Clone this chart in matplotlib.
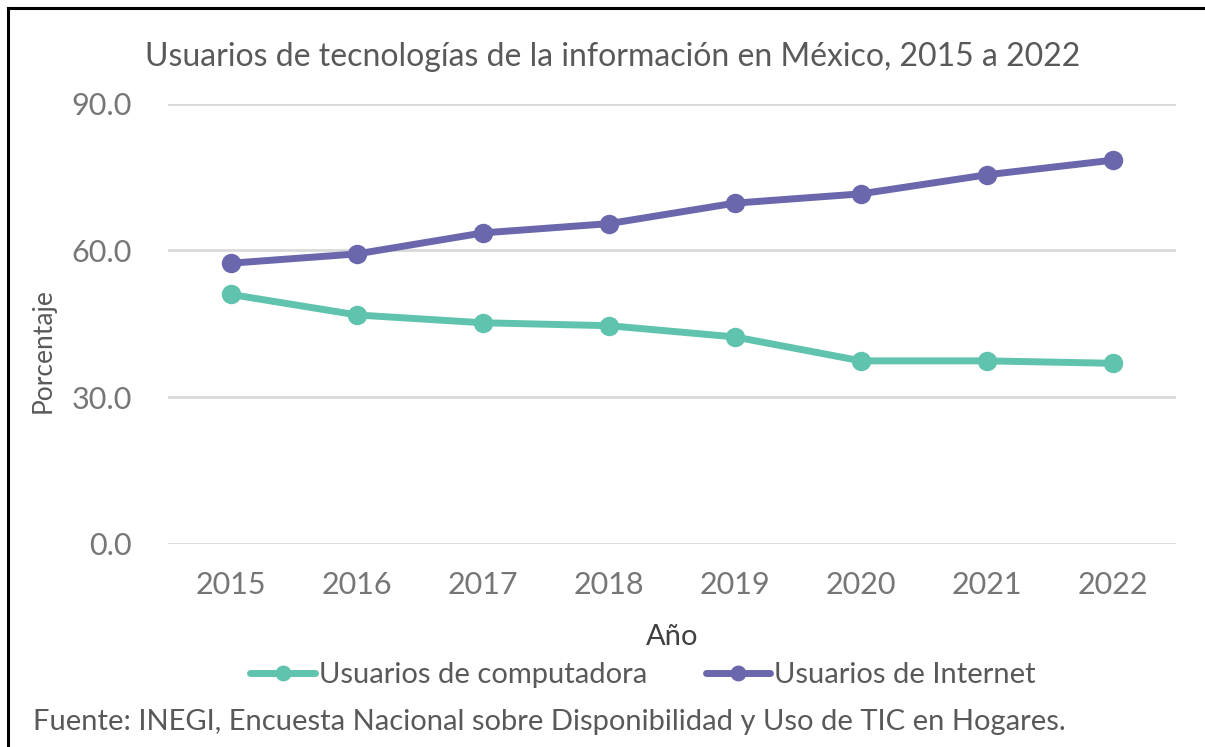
import matplotlib.pyplot as plt
from matplotlib.lines import Line2D
import numpy as np

# Datos (porcentaje de la población)
anios = ['2015', '2016', '2017', '2018', '2019', '2020', '2021', '2022']
usuarios_computadora = [51.0, 46.8, 45.2, 44.6, 42.3, 37.4, 37.4, 36.9]
usuarios_internet = [57.4, 59.3, 63.6, 65.5, 69.7, 71.6, 75.5, 78.5]
y_ticks = [0, 30, 60, 90]

plt.rcParams['font.family'] = ['Lato', 'DejaVu Sans']

COLOR_COMP = '#5FC3AD'
COLOR_NET = '#6A67AD'
TEXT = '#595959'

fig = plt.figure(figsize=(12.05, 7.47), dpi=100)
ax = fig.add_axes([0.1394, 0.2724, 0.8365, 0.5884])

x = np.arange(len(anios))
ax.plot(x, usuarios_computadora, color=COLOR_COMP, linewidth=5, marker='o',
        markersize=13, label='Usuarios de computadora', solid_capstyle='round')
ax.plot(x, usuarios_internet, color=COLOR_NET, linewidth=5, marker='o',
        markersize=13, label='Usuarios de Internet', solid_capstyle='round')

ax.set_xlim(-0.5, len(anios) - 0.5)
ax.set_ylim(0, 90)
ax.set_yticks(y_ticks)
ax.set_yticklabels([f'{v:.1f}' for v in y_ticks])
ax.set_xticks(x)
ax.set_xticklabels(anios)
ax.tick_params(length=0, labelsize=22, labelcolor='#767676')
ax.tick_params(axis='x', pad=20)
ax.tick_params(axis='y', pad=26)
ax.grid(axis='y', color='#D9D9D9', linewidth=2)
ax.set_axisbelow(True)
for s in ax.spines.values():
    s.set_visible(False)

ax.set_xlabel('Año', fontsize=21, color='#404040', labelpad=18)
ax.set_ylabel('Porcentaje', fontsize=19, color=TEXT)
ax.yaxis.set_label_coords(-0.111, 0.44)

fig.text(0.508, 0.924, 'Usuarios de tecnologías de la información en México, 2015 a 2022',
         ha='center', va='center', fontsize=23, color=TEXT)

ax.legend(loc='center', bbox_to_anchor=(0.5337, 1 - 675 / 747), bbox_transform=fig.transFigure,
          ncol=2, frameon=False, fontsize=21, labelcolor=TEXT, numpoints=1,
          handlelength=2.2, handletextpad=0.15, columnspacing=2.0, markerscale=0.8)

fig.text(0.027, 1 - 722 / 747,
         'Fuente: INEGI, Encuesta Nacional sobre Disponibilidad y Uso de TIC en Hogares.',
         ha='left', va='center', fontsize=21, color=TEXT)

# marco
fig.add_artist(Line2D([8 / 1205, 1], [1 - 8 / 747, 1 - 8 / 747], color='black', linewidth=2.2))
fig.add_artist(Line2D([8 / 1205, 8 / 1205], [0, 1 - 8 / 747], color='black', linewidth=2.2))

fig.savefig('out.png', dpi=100)
